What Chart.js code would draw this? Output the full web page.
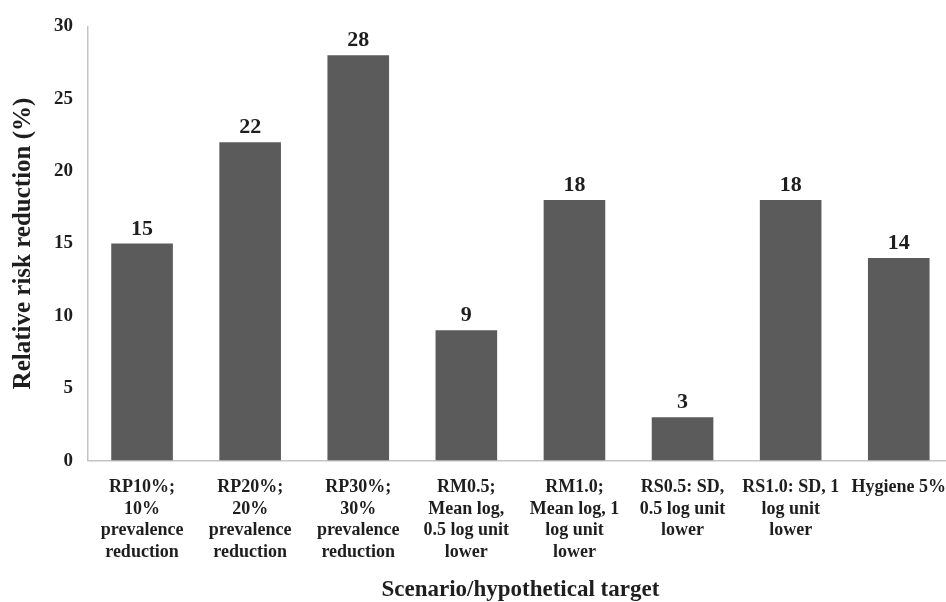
<!DOCTYPE html>
<html>
<head>
<meta charset="utf-8">
<script src="https://cdn.jsdelivr.net/npm/chart.js@4"></script>
<style>
  html, body { margin: 0; padding: 0; background: #fff; overflow: hidden; }
  #wrap { width: 962px; height: 602px; position: relative; }
</style>
</head>
<body>
<div id="wrap"><canvas id="chart"></canvas></div>
<script>
// categories (multi-line labels) and values
const scenarios = [
    ['RP10%;', '10%', 'prevalence', 'reduction'],
    ['RP20%;', '20%', 'prevalence', 'reduction'],
    ['RP30%;', '30%', 'prevalence', 'reduction'],
    ['RM0.5;', 'Mean log,', '0.5 log unit', 'lower'],
    ['RM1.0;', 'Mean log, 1', 'log unit', 'lower'],
    ['RS0.5: SD,', '0.5 log unit', 'lower'],
    ['RS1.0: SD, 1', 'log unit', 'lower'],
    ['Hygiene 5%']
];
const riskReduction = [15, 22, 28, 9, 18, 3, 18, 14];
const yTicks = [0, 5, 10, 15, 20, 25, 30];

const serif = '"Liberation Serif", "Times New Roman", serif';
const ink = '#1e1e1e';

// valeurs au-dessus des barres
const barValues = {
    id: 'barValues',
    afterDatasetsDraw(chart) {
        const ctx = chart.ctx;
        const meta = chart.getDatasetMeta(0);
        ctx.save();
        ctx.font = 'bold 22px ' + serif;
        ctx.fillStyle = ink;
        ctx.textAlign = 'center';
        ctx.textBaseline = 'alphabetic';
        meta.data.forEach((bar, i) => {
            ctx.fillText(String(riskReduction[i]), bar.x, bar.y - 9);
        });
        ctx.restore();
    }
};

new Chart(document.getElementById('chart'), {
    type: 'bar',
    data: {
        labels: scenarios,
        datasets: [{
            data: riskReduction,
            backgroundColor: '#5b5b5b',
            categoryPercentage: 1,
            barPercentage: 0.57
        }]
    },
    options: {
        responsive: true,
        maintainAspectRatio: false,
        animation: false,
        layout: { padding: { top: 14, right: 0, left: 4, bottom: 0 } },
        plugins: {
            legend: { display: false },
            tooltip: { enabled: false }
        },
        scales: {
            y: {
                min: 0,
                max: 30,
                afterBuildTicks: axis => { axis.ticks = yTicks.map(v => ({ value: v })); },
                grid: { display: false, drawTicks: false },
                border: { color: '#c4c4c4', width: 1.5 },
                ticks: {
                    padding: 15,
                    color: ink,
                    font: { family: serif, size: 19, weight: 'bold' }
                },
                title: {
                    display: true,
                    text: 'Relative risk reduction (%)',
                    color: ink,
                    padding: { top: 5, bottom: 0 },
                    font: { family: serif, size: 25, weight: 'bold' }
                }
            },
            x: {
                grid: { display: false, drawTicks: false },
                border: { color: '#c4c4c4', width: 1.5 },
                ticks: {
                    padding: 16,
                    maxRotation: 0,
                    autoSkip: false,
                    color: ink,
                    font: { family: serif, size: 18, weight: 'bold', lineHeight: 1.2 }
                },
                title: {
                    display: true,
                    text: 'Scenario/hypothetical target',
                    color: ink,
                    padding: { top: 0, bottom: 0 },
                    font: { family: serif, size: 23, weight: 'bold', lineHeight: 1 }
                }
            }
        }
    },
    plugins: [barValues]
});
</script>
</body>
</html>
